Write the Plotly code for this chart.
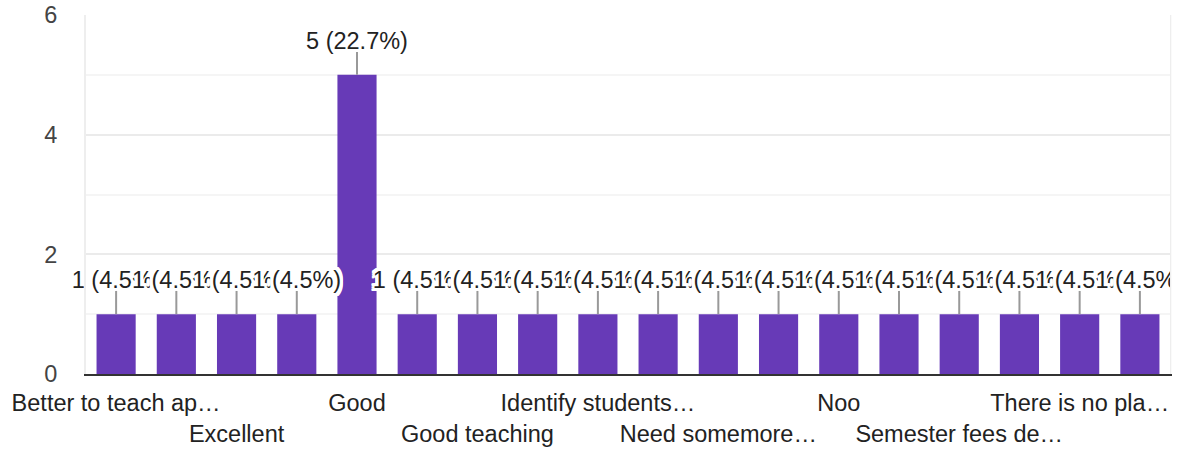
import plotly.graph_objects as go

values = [1, 1, 1, 1, 5, 1, 1, 1, 1, 1, 1, 1, 1, 1, 1, 1, 1, 1]
tick_labels = [
    "Better to teach ap…", "", "Excellent", "", "Good", "",
    "Good teaching", "", "Identify students…", "", "Need somemore…", "",
    "Noo", "", "Semester fees de…", "", "There is no pla…", "",
]
y_ticks = [0, 2, 4, 6]

total = sum(values)
positions = list(range(len(values)))
data_labels = [f"{v} ({v / total * 100:.1f}%)" for v in values]

shown = [i for i, t in enumerate(tick_labels) if t]
ticktext = [("" if k % 2 == 0 else "<br>") + tick_labels[i] for k, i in enumerate(shown)]

FONT = "Liberation Sans, Arial, sans-serif"
halo = ", ".join(f"{dx}px {dy}px 0 #fff" for dx in (-3, -2, 0, 2, 3) for dy in (-3, -2, 0, 2, 3))

fig = go.Figure()
fig.add_trace(go.Bar(
    x=positions, y=values,
    marker=dict(color="#673ab7", line=dict(width=0)),
    width=0.65,
    error_y=dict(type="data", symmetric=False, array=[0.4] * len(values),
                 arrayminus=[0] * len(values), color="#999999", thickness=2, width=0),
    hoverinfo="skip",
))
fig.add_trace(go.Scatter(
    x=positions, y=[v + 0.53 for v in values],
    mode="text", text=data_labels, textposition="middle center",
    textfont=dict(family=FONT, size=23.5, color="#222222", shadow=halo),
    cliponaxis=False, hoverinfo="skip",
))

# white mask right of the plot area, so the last label is cut at the chart edge
fig.add_shape(type="rect", xref="paper", yref="paper", x0=1.0012, x1=1.02, y0=0, y1=1,
              fillcolor="white", line=dict(width=0), layer="above")

fig.update_layout(
    width=1179, height=450,
    margin=dict(l=86, r=9, t=15, b=76, autoexpand=False),
    paper_bgcolor="white", plot_bgcolor="white",
    showlegend=False,
    font=dict(family=FONT, size=23.5, color="#222222"),
    xaxis=dict(
        range=[-0.5, len(values) - 0.5],
        tickmode="array", tickvals=shown, ticktext=ticktext,
        tickangle=0, automargin=False,
        showgrid=False, zeroline=False,
        showline=True, linecolor="#333333", linewidth=2,
        ticks="", ticklabelstandoff=7,
        tickfont=dict(family=FONT, size=23.5, color="#222222"),
        fixedrange=True,
    ),
    yaxis=dict(
        range=[0, 6], automargin=False,
        tickmode="array", tickvals=y_ticks,
        showgrid=True, gridcolor="#ebebeb", gridwidth=2,
        minor=dict(dtick=1, showgrid=True, gridcolor="#f5f5f5", gridwidth=2),
        zeroline=False,
        showline=True, linecolor="#eeeeee", linewidth=2, mirror=True,
        ticks="", ticklabelstandoff=22,
        tickfont=dict(family=FONT, size=23.5, color="#444444"),
        fixedrange=True,
    ),
)

fig.write_html("out.html", config={"displayModeBar": False},
               post_script="document.body.style.margin='0';")
